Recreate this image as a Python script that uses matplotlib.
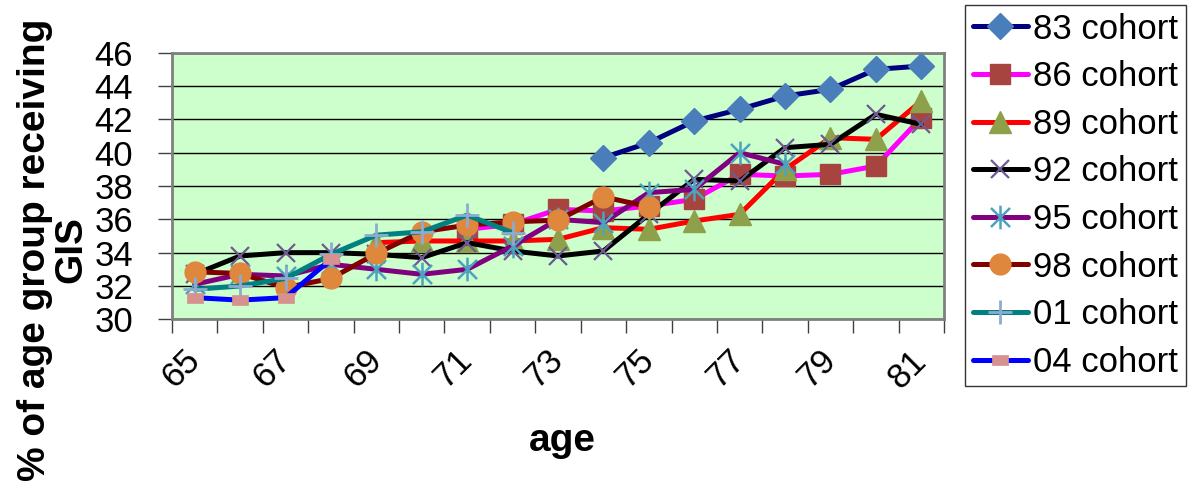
import numpy as np
import matplotlib
matplotlib.use('Agg')
import matplotlib.pyplot as plt
from matplotlib.path import Path

plt.rcParams['font.family'] = ['Liberation Sans', 'DejaVu Sans']

# ---- data ----
ages = list(range(65, 82))
x_tick_labels = ['65', '67', '69', '71', '73', '75', '77', '79', '81']
y_ticks = [30, 32, 34, 36, 38, 40, 42, 44, 46]

ages_83 = list(range(74, 82))
vals_83 = [39.7, 40.6, 41.9, 42.6, 43.4, 43.8, 45.0, 45.2]

ages_86 = list(range(71, 82))
vals_86 = [35.4, 35.7, 36.6, 36.5, 36.8, 37.2, 38.7, 38.6, 38.7, 39.2, 42.1]

ages_89 = list(range(69, 82))
vals_89 = [34.6, 34.7, 34.7, 34.7, 34.8, 35.5, 35.4, 35.9, 36.3, 39.0, 40.9, 40.8, 43.1]

ages_92 = list(range(65, 82))
vals_92 = [32.7, 33.8, 34.0, 34.0, 33.9, 33.7, 34.6, 34.1, 33.8, 34.1, 36.3, 38.4, 38.3, 40.3, 40.5, 42.3, 41.7]

ages_95 = list(range(65, 79))
vals_95 = [32.1, 32.7, 32.6, 33.3, 33.0, 32.7, 33.0, 34.4, 36.0, 35.8, 37.6, 37.8, 40.0, 39.3]

ages_98 = list(range(65, 76))
vals_98 = [32.85, 32.75, 31.9, 32.45, 33.95, 35.25, 35.65, 35.85, 35.95, 37.35, 36.75]

ages_01 = list(range(65, 73))
vals_01 = [31.8, 32.0, 32.45, 33.9, 35.05, 35.25, 36.25, 35.2]

ages_04 = list(range(65, 69))
vals_04 = [31.3, 31.15, 31.3, 33.6]

# ---- custom markers ----
asterisk = Path([(-0.5, -0.5), (0.5, 0.5), (-0.5, 0.5), (0.5, -0.5), (0, -0.62), (0, 0.62)],
                [Path.MOVETO, Path.LINETO, Path.MOVETO, Path.LINETO, Path.MOVETO, Path.LINETO])
small_rect = Path([(-0.5, -0.3), (0.5, -0.3), (0.5, 0.3), (-0.5, 0.3), (-0.5, -0.3)],
                  [Path.MOVETO, Path.LINETO, Path.LINETO, Path.LINETO, Path.CLOSEPOLY])

series = [
    ('83 cohort', ages_83, vals_83, '#000080', 'D', '#4A7EBB', '#4A7EBB', 13, 1),
    ('86 cohort', ages_86, vals_86, '#FF00FF', 's', '#A8443F', '#A8443F', 14, 1),
    ('89 cohort', ages_89, vals_89, '#FF0000', '^', '#8FA04B', '#8FA04B', 16, 1),
    ('92 cohort', ages_92, vals_92, '#000000', 'x', 'none', '#6E5A92', 13, 1.6),
    ('95 cohort', ages_95, vals_95, '#800080', asterisk, 'none', '#4BA3BD', 17, 1.8),
    ('98 cohort', ages_98, vals_98, '#800000', 'o', '#DE873D', '#DE873D', 15, 1),
    ('01 cohort', ages_01, vals_01, '#008080', '+', 'none', '#8FAAD0', 17, 2),
    ('04 cohort', ages_04, vals_04, '#0000FF', small_rect, '#D7918F', '#D7918F', 11, 0.5),
]

W, H = 1192, 491
fig = plt.figure(figsize=(W / 100, H / 100), dpi=100)
ax_l, ax_r, ax_t, ax_b = 172, 944, 52.7, 319.3
ax = fig.add_axes([ax_l / W, 1 - ax_b / H, (ax_r - ax_l) / W, (ax_b - ax_t) / H])
ax.set_facecolor('#CCFFCC')

handles = []
for i, (name, xa, ya, lc, mk, mfc, mec, ms, mew) in enumerate(series):
    xi = [ages.index(a) for a in xa]
    line, = ax.plot(xi, ya, color=lc, lw=3.6, marker=mk, ms=ms, mfc=mfc, mec=mec,
                    mew=mew, solid_joinstyle='round', solid_capstyle='round',
                    label=name, zorder=3 + i)
    handles.append(line)

ax.set_xlim(-0.5, len(ages) - 0.5)
ax.set_ylim(30, 46)
ax.set_yticks(y_ticks)
ax.set_yticklabels([str(v) for v in y_ticks], fontsize=25)
ax.yaxis.grid(True, color='#000000', lw=1.0, zorder=1)
ax.set_axisbelow(True)
ax.tick_params(axis='y', direction='out', length=10, width=1, color='#404040', pad=18)

# labelled positions (every other category) and boundary tick marks
lab_pos = [ages.index(int(s)) for s in x_tick_labels]
ax.set_xticks(lab_pos)
ax.set_xticklabels(x_tick_labels, fontsize=25, rotation=45, ha='right',
                   va='center', rotation_mode='anchor')
ax.tick_params(axis='x', which='major', length=0, pad=26)
ax.set_xticks(np.arange(-0.5, len(ages)), minor=True)
ax.tick_params(axis='x', which='minor', direction='out', length=10, width=1, color='#404040')

for s in ax.spines.values():
    s.set_color('#808080')
    s.set_linewidth(2)

fig.text(562 / W, 1 - 451 / H, 'age', fontsize=28, fontweight='bold',
         ha='center', va='baseline')
fig.text(53 / W, 1 - 250 / H, '% of age group receiving\nGIS', fontsize=28,
         fontweight='bold', rotation=90, ha='center', va='center',
         multialignment='center', linespacing=1.0)

leg = fig.legend(handles=handles, loc='upper left',
                 bbox_to_anchor=(965 / W, 1 - 5 / H), fontsize=25,
                 frameon=True, fancybox=False, shadow=False,
                 handlelength=1.6, handletextpad=0.15, borderpad=0.22,
                 labelspacing=0.42, borderaxespad=0.0)
leg.get_frame().set_edgecolor('#000000')
leg.get_frame().set_linewidth(1.0)

fig.savefig('out.png', dpi=100)
